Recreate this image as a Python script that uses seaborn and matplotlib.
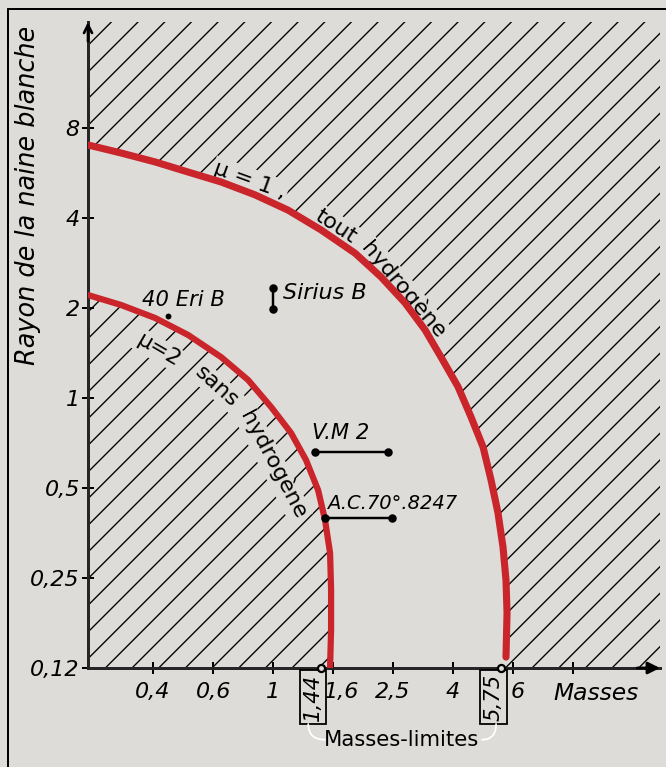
import matplotlib
matplotlib.use("Agg")
import matplotlib.pyplot as plt
import matplotlib.transforms as mtransforms
from matplotlib.lines import Line2D
from matplotlib.ticker import NullLocator
import seaborn as sns

# courbe mu = 1 (tout hydrogene) : masse / rayon
outer_mass = [0.2416, 0.3113, 0.4044, 0.5207, 0.6707, 0.871, 1.122, 1.445, 1.877, 2.291, 2.754,
              3.211, 3.631, 4.137, 4.571, 5.012, 5.330, 5.623, 5.843, 5.978, 6.026, 5.978]
outer_radius = [7.02, 6.60, 6.16, 5.70, 5.28, 4.78, 4.25, 3.65, 3.05, 2.54, 2.08,
                1.69, 1.37, 1.09, 0.864, 0.686, 0.532, 0.412, 0.317, 0.246, 0.191, 0.136]

# courbe mu = 2 (sans hydrogene)
inner_mass = [0.2416, 0.3113, 0.4044, 0.5207, 0.6707, 0.8254, 0.985, 1.148, 1.288, 1.413,
              1.490, 1.549, 1.561, 1.561, 1.549]
inner_radius = [2.21, 2.047, 1.852, 1.625, 1.371, 1.149, 0.933, 0.764, 0.620, 0.492,
                0.391, 0.303, 0.228, 0.168, 0.126]

# naines blanches observees
eri_mass, eri_radius = 0.447, 1.88
sirius_mass, sirius_radius = [1.0, 1.0], [1.98, 2.33]
vm2_mass, vm2_radius = [1.38, 2.42], [0.66, 0.66]
ac_mass, ac_radius = [1.49, 2.49], [0.397, 0.397]

limit_masses = [1.44, 5.75]
limit_labels = ["1,44", "5,75"]

x_ticks = [0.398, 0.631, 1.0, 1.585, 2.512, 3.981, 6.31, 10.0]
x_labels = ["0,4", "0,6", "1", "1,6", "2,5", "4", "6", ""]
y_ticks = [0.125, 0.25, 0.5, 1, 2, 4, 8]
y_labels = ["0,12", "0,25", "0,5", "1", "2", "4", "8"]

paper = "#dddcd8"
red = "#c9252b"
DPI = 160

sns.set_style("ticks")
plt.rcParams["font.family"] = ["DejaVu Sans"]
plt.rcParams["text.color"] = "black"
plt.rcParams["axes.labelcolor"] = "black"
plt.rcParams["hatch.linewidth"] = 0.6
plt.rcParams["hatch.color"] = "black"

fig = plt.figure(figsize=(666 / DPI, 767 / DPI), dpi=DPI)
fig.patch.set_facecolor(paper)
ax = fig.add_axes([88 / 666, 99 / 767, 572 / 666, 646 / 767])
ax.set_facecolor(paper)
ax.set_xscale("log")
ax.set_yscale("log", base=2)
ax.set_xlim(0.2415, 19.5)
ax.set_ylim(0.125, 18.1)
x0, x1 = ax.get_xlim()
y0, y1 = ax.get_ylim()

# zones interdites hachurees
ax.fill([x0] + outer_mass + [outer_mass[-1], x1, x1, x0],
        [y1] + outer_radius + [y0, y0, y1, y1],
        facecolor="none", edgecolor="black", linewidth=0, hatch="//", zorder=1)
ax.fill([x0] + inner_mass + [inner_mass[-1]],
        [y0] + inner_radius + [y0],
        facecolor="none", edgecolor="black", linewidth=0, hatch="//", zorder=1)

# courbes rouges
sns.lineplot(x=outer_mass, y=outer_radius, sort=False, estimator=None, ax=ax,
             color=red, linewidth=3.2, solid_capstyle="round", solid_joinstyle="round", zorder=4)
sns.lineplot(x=inner_mass, y=inner_radius, sort=False, estimator=None, ax=ax,
             color=red, linewidth=2.8, solid_capstyle="round", solid_joinstyle="round", zorder=4)

# etoiles
sns.scatterplot(x=[eri_mass], y=[eri_radius], ax=ax, color="black", s=7, linewidth=0, zorder=5)
for xs, ys in [(sirius_mass, sirius_radius), (vm2_mass, vm2_radius), (ac_mass, ac_radius)]:
    ax.plot(xs, ys, "-o", color="black", lw=1.1, ms=2.8, zorder=5)

ax.text(0.366, 2.13, "40 Eri B", fontsize=9.5, style="italic", va="center", ha="left")
ax.text(1.08, 2.24, "Sirius B", fontsize=10, style="italic", va="center", ha="left")
ax.text(1.35, 0.764, "V.M 2", fontsize=9.5, style="italic", va="center", ha="left")
ax.text(1.51, 0.445, "A.C.70°.8247", fontsize=8.8, style="italic", va="center", ha="left")

# etiquettes le long des courbes
box = dict(facecolor=paper, edgecolor="none", pad=0.8)
curve_txt = [
    (0.838, 5.36, "μ = 1 ,", -20),
    (1.62, 3.76, "tout", -33),
    (2.73, 2.30, "hydrogène", -50),
    (0.414, 1.45, "μ=2", -30),
    (0.65, 1.09, "sans", -42),
    (1.0, 0.597, "hydrogène", -62),
]
for mx, ry, s, rot in curve_txt:
    ax.text(mx, ry, s, fontsize=10, rotation=rot, ha="center", va="center",
            rotation_mode="anchor", bbox=box, zorder=3)

# masses limites
ax.plot(limit_masses, [y0, y0], "o", ms=3.2, mfc=paper, mec="black", mew=1.0,
        clip_on=False, zorder=6)
for m, lab in zip(limit_masses, limit_labels):
    ax.annotate(lab, xy=(m, y0), xytext=(-3.3, -13), textcoords="offset points",
                rotation=90, ha="center", va="center", fontsize=9.5, style="italic",
                bbox=dict(boxstyle="square,pad=0.15", facecolor=paper, edgecolor="black", lw=0.8),
                annotation_clip=False)
trans = ax.get_xaxis_transform()
ax.text(2.69, -0.111, "Masses-limites", transform=trans, ha="center", va="center", fontsize=9.5)
for (xa, ya), (xb, yb) in [((1.31, -0.0867), (1.49, -0.111)), ((5.54, -0.0867), (4.97, -0.111))]:
    ax.annotate("", xy=(xb, yb), xytext=(xa, ya), xycoords=trans, textcoords=trans,
                arrowprops=dict(arrowstyle="-", lw=0.8, shrinkA=0, shrinkB=0,
                                connectionstyle="angle3,angleA=90,angleB=0"),
                annotation_clip=False)

# axes
sns.despine(ax=ax)
for side in ["left", "bottom"]:
    ax.spines[side].set_linewidth(1.35)
ax.set_xticks(x_ticks, x_labels)
ax.set_yticks(y_ticks, y_labels)
ax.xaxis.set_minor_locator(NullLocator())
ax.yaxis.set_minor_locator(NullLocator())
ax.tick_params(direction="inout", length=5.4, width=0.9, labelsize=10, colors="black")
ax.tick_params(axis="x", pad=3.5)
ax.tick_params(axis="y", pad=1)
for lab in ax.get_xticklabels() + ax.get_yticklabels():
    lab.set_fontstyle("italic")
shift = {"1,6": 9, "6": 5}
for lab in ax.get_xticklabels():
    if lab.get_text() in shift:
        lab.set_transform(lab.get_transform() + mtransforms.ScaledTranslation(
            shift[lab.get_text()] / DPI, 0, fig.dpi_scale_trans))

ax.annotate("", xy=(1.0, 0), xytext=(0.96, 0), xycoords="axes fraction",
            arrowprops=dict(arrowstyle="-|>", color="black", lw=1.3, mutation_scale=11,
                            shrinkA=0, shrinkB=0), annotation_clip=False)
ax.annotate("", xy=(0, 1.0), xytext=(0, 0.97), xycoords="axes fraction",
            arrowprops=dict(arrowstyle="->", color="black", lw=1.2, mutation_scale=9,
                            shrinkA=0, shrinkB=0), annotation_clip=False)

ax.set_ylabel("Rayon de la naine blanche", fontsize=11.5, style="italic")
ax.yaxis.set_label_coords(-0.082, 0.732)
ax.text(0.888, -0.04, "Masses", transform=ax.transAxes, fontsize=10.5, style="italic",
        ha="center", va="center")

# cadre
fig.add_artist(Line2D([8 / 666, 8 / 666], [0, 1 - 9 / 767], color="black", lw=0.9))
fig.add_artist(Line2D([8 / 666, 1], [1 - 9 / 767, 1 - 9 / 767], color="black", lw=0.9))

fig.savefig("out.png", dpi=DPI, facecolor=paper)
